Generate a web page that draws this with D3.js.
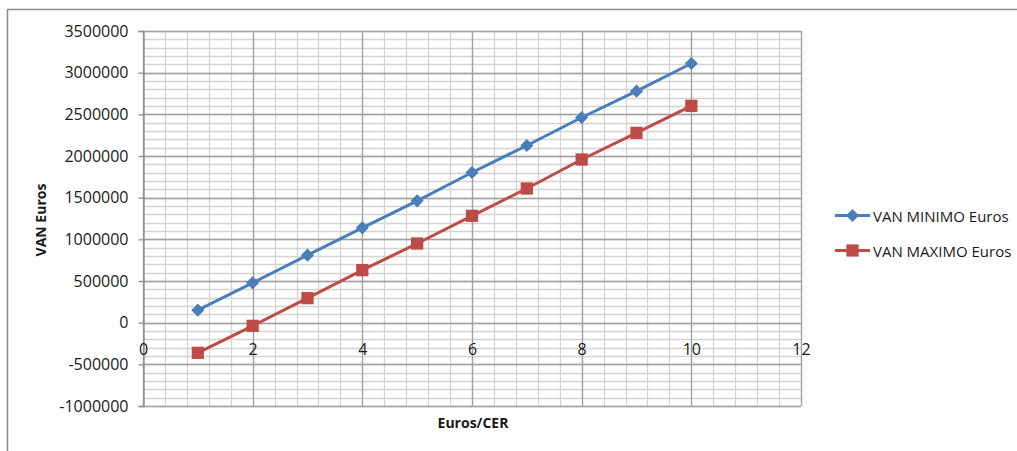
<!DOCTYPE html>
<html>
<head>
<meta charset="utf-8">
<script src="https://cdn.jsdelivr.net/npm/d3@7"></script>
<style>
  html, body { margin: 0; padding: 0; background: #fff; }
  svg { display: block; }
  text { font-family: "Open Sans", "Noto Sans", sans-serif; fill: #1a1a1a; }
</style>
</head>
<body>
<svg id="chart" width="1017" height="451"></svg>
<script>
// Euros per CER on the horizontal axis
const eurosPerCER = [1, 2, 3, 4, 5, 6, 7, 8, 9, 10];
// Net present value (VAN) in euros
const vanMinimo = [150000, 478000, 810000, 1138000, 1462000, 1802000, 2126000, 2462000, 2778000, 3110000];
const vanMaximo = [-362000, -38000, 294000, 630000, 950000, 1282000, 1610000, 1958000, 2278000, 2602000];

const seriesNames = ["VAN MINIMO Euros", "VAN MAXIMO Euros"];
const seriesColors = ["#4A7EBB", "#BE4B48"];

const xTicks = [0, 2, 4, 6, 8, 10, 12];
const yTicks = [-1000000, -500000, 0, 500000, 1000000, 1500000, 2000000, 2500000, 3000000, 3500000];

const svg = d3.select("#chart");

// outer chart frame (top and left edges)
svg.append("path")
  .attr("d", "M7.5,451 V9.5 H1017")
  .attr("fill", "none")
  .attr("stroke", "#8c8c8c")
  .attr("stroke-width", 1.5);

const plot = { left: 143, right: 801, top: 31, bottom: 406 };

const x = d3.scaleLinear().domain([0, 12]).range([plot.left, plot.right]);
const y = d3.scaleLinear().domain([-1000000, 3500000]).range([plot.bottom, plot.top]);

const g = svg.append("g");

// minor gridlines
const yMinor = d3.range(-1000000, 3500001, 100000);
const xMinor = d3.range(0, 12.0001, 0.4);
g.selectAll(".hminor").data(yMinor).join("line")
  .attr("x1", plot.left).attr("x2", plot.right)
  .attr("y1", d => Math.round(y(d)) + 0.5).attr("y2", d => Math.round(y(d)) + 0.5)
  .attr("stroke", "#d4d4d4").attr("stroke-width", 1.3);
g.selectAll(".vminor").data(xMinor).join("line")
  .attr("y1", plot.top).attr("y2", plot.bottom)
  .attr("x1", d => Math.round(x(d)) + 0.5).attr("x2", d => Math.round(x(d)) + 0.5)
  .attr("stroke", "#d4d4d4").attr("stroke-width", 1.3);

// major gridlines
g.selectAll(".hmajor").data(yTicks).join("line")
  .attr("x1", plot.left).attr("x2", plot.right)
  .attr("y1", d => Math.round(y(d)) + 0.5).attr("y2", d => Math.round(y(d)) + 0.5)
  .attr("stroke", "#a0a0a0").attr("stroke-width", 1.3);
g.selectAll(".vmajor").data(xTicks).join("line")
  .attr("y1", plot.top).attr("y2", plot.bottom)
  .attr("x1", d => Math.round(x(d)) + 0.5).attr("x2", d => Math.round(x(d)) + 0.5)
  .attr("stroke", "#a0a0a0").attr("stroke-width", 1.3);

// y axis
const yAxis = d3.axisLeft(y).tickValues(yTicks).tickSize(5).tickPadding(10)
  .tickFormat(d => String(d));
const yAxisG = svg.append("g").attr("transform", `translate(${plot.left + 0.5},0)`).call(yAxis);
yAxisG.select(".domain").attr("stroke", "#8c8c8c").attr("stroke-width", 1.3);
yAxisG.selectAll(".tick line").attr("stroke", "#8c8c8c").attr("stroke-width", 1.3);
yAxisG.selectAll(".tick text")
  .style("font-family", "'Open Sans', 'Noto Sans', sans-serif")
  .style("font-size", "16px").attr("fill", "#1a1a1a");

// x axis tick labels sit below the zero line
const xAxis = d3.axisBottom(x).tickValues(xTicks).tickSize(0).tickPadding(21)
  .tickFormat(d => String(d));
const xAxisG = svg.append("g").attr("transform", `translate(0,${y(0)})`).call(xAxis);
xAxisG.select(".domain").remove();
xAxisG.selectAll(".tick text")
  .style("font-family", "'Open Sans', 'Noto Sans', sans-serif")
  .style("font-size", "16px").attr("fill", "#1a1a1a");

// axis titles
svg.append("text")
  .attr("x", x(6) + 1).attr("y", 422)
  .attr("text-anchor", "middle").attr("dominant-baseline", "central")
  .style("font-size", "14px").style("font-weight", "bold")
  .text("Euros/CER");
svg.append("text")
  .attr("transform", "translate(40,220) rotate(-90)")
  .attr("text-anchor", "middle").attr("dominant-baseline", "central")
  .style("font-size", "14px").style("font-weight", "bold")
  .text("VAN Euros");

// series
const series = [vanMinimo, vanMaximo];
const line = d3.line().x((d, i) => x(eurosPerCER[i])).y(d => y(d));
const diamond = d3.symbol().type(d3.symbolDiamond2).size(110);
const square = d3.symbol().type(d3.symbolSquare).size(150);

series.forEach((vals, si) => {
  svg.append("path").datum(vals)
    .attr("d", line).attr("fill", "none")
    .attr("stroke", seriesColors[si]).attr("stroke-width", 3);
  svg.selectAll(".m" + si).data(vals).join("path")
    .attr("transform", (d, i) => `translate(${x(eurosPerCER[i])},${y(d)})`)
    .attr("d", si === 0 ? diamond : square)
    .attr("fill", seriesColors[si]);
});

// legend
const legend = svg.append("g");
seriesNames.forEach((name, i) => {
  const ly = 215.5 + i * 35;
  legend.append("line")
    .attr("x1", 835).attr("x2", 870).attr("y1", ly).attr("y2", ly)
    .attr("stroke", seriesColors[i]).attr("stroke-width", 3);
  legend.append("path")
    .attr("transform", `translate(852.5,${ly})`)
    .attr("d", i === 0 ? diamond : square)
    .attr("fill", seriesColors[i]);
  legend.append("text")
    .attr("x", 873).attr("y", ly)
    .attr("dominant-baseline", "central")
    .style("font-size", "15px")
    .text(name);
});
</script>
</body>
</html>
